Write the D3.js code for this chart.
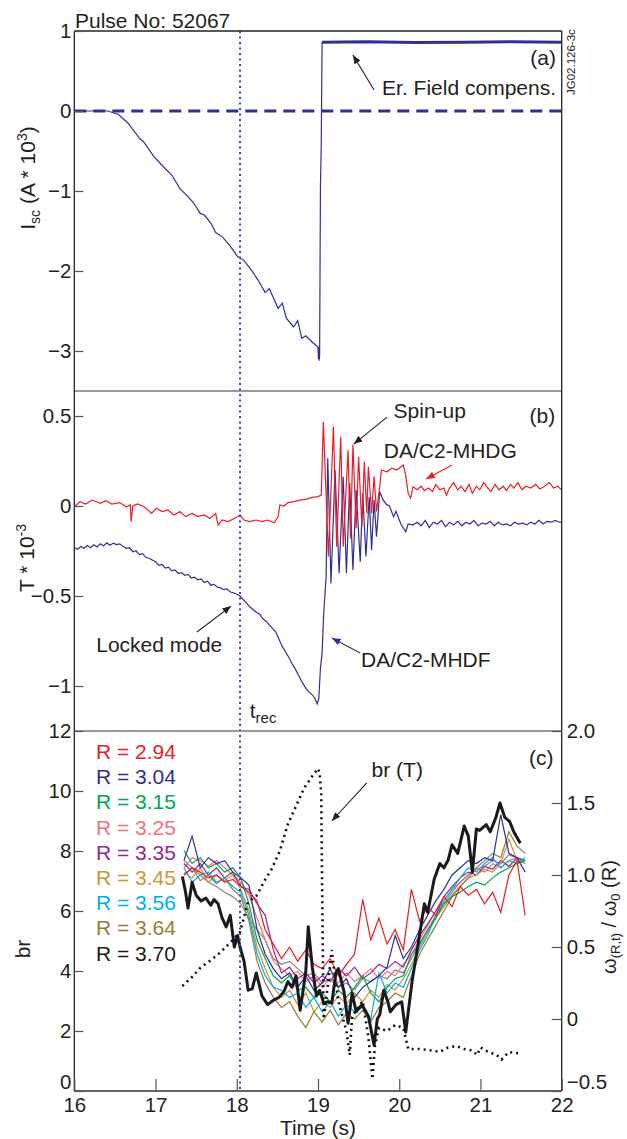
<!DOCTYPE html>
<html><head><meta charset="utf-8">
<script src="https://cdn.jsdelivr.net/npm/d3@7"></script>
<style>
body{margin:0;background:#fff}
svg{display:block}
text{font-family:"Liberation Sans",Arial,Helvetica,sans-serif}
</style>
</head><body><svg id="c" width="627" height="1139"></svg>
<script>
// ---------------- DATA ----------------
const timeTicks = [16,17,18,19,20,21,22];
const aTicks = [1,0,-1,-2,-3];
const bTicks = [0.5,0,-0.5,-1];
const cLeftTicks = [0,2,4,6,8,10,12];
const cRightTicks = [-0.5,0,0.5,1,1.5,2];
const tRec = 18.04;

// Panel (a): Isc (A*10^3)
const iscT = [16.0,16.41,16.54,16.66,16.81,16.85,16.98,17.10,17.20,17.30,17.40,17.47,17.55,17.60,17.68,17.74,17.82,17.92,18.01,18.09,18.18,18.26,18.35,18.40,18.51,18.56,18.61,18.70,18.75,18.80,18.85,18.93,19.00,19.005,19.01,19.015,19.02,19.03,19.04,19.05];
const iscV = [0,0,-0.04,-0.15,-0.35,-0.38,-0.57,-0.70,-0.80,-0.97,-1.07,-1.15,-1.28,-1.30,-1.40,-1.52,-1.57,-1.69,-1.82,-1.87,-1.99,-2.11,-2.27,-2.22,-2.47,-2.40,-2.59,-2.70,-2.62,-2.84,-2.81,-2.89,-2.95,-3.10,-2.95,-3.12,-3.05,-0.95,-0.40,0.86];
const compT = [19.05,19.6,20.2,20.8,21.4,22.0];
const compV = [0.86,0.865,0.855,0.86,0.865,0.86];
const zeroRef = [0,0];

// Panel (b): DA/C2-MHDG (red)
const mhdgT = [16.01,16.07,16.14,16.22,16.32,16.39,16.46,16.56,16.64,16.69,16.70,16.72,16.78,16.86,16.95,17.01,17.08,17.15,17.23,17.30,17.37,17.45,17.52,17.60,17.67,17.74,17.77,17.82,17.89,17.97,18.04,18.09,18.16,18.24,18.31,18.38,18.46,18.51,18.53,18.58,18.63,18.70,18.78,18.85,18.93,19.00,19.04,
 19.066,19.128,19.19,19.23,19.28,19.31,19.37,19.40,19.43,19.47,19.50,19.54,19.57,19.60,19.62,19.66,19.69,19.72,19.76,19.78,19.85,19.91,19.97,20.05,20.08,20.11,20.14,20.17,
 20.22,20.27,20.31,20.36,20.41,20.45,20.50,20.55,20.58,20.62,20.67,20.72,20.76,20.81,20.86,20.90,20.95,20.99,21.04,21.09,21.13,21.18,21.23,21.28,21.32,21.37,21.41,21.46,21.51,21.56,21.62,21.68,21.73,21.79,21.85,21.90,21.95,22.0];
const mhdgV = [0.0,0.024,0.011,0.033,0.015,0.030,0.011,0.019,-0.004,0.006,-0.087,0,0.011,-0.004,-0.041,-0.013,-0.031,-0.022,-0.05,-0.031,-0.059,-0.041,-0.059,-0.05,-0.069,-0.041,-0.106,-0.078,-0.087,-0.069,-0.05,-0.078,-0.087,-0.078,-0.087,-0.078,-0.093,-0.059,0.006,0.0,0.019,0.024,0.033,0.037,0.048,0.052,0.061,
 0.468,-0.28,0.44,-0.226,0.385,-0.226,0.31,-0.18,0.34,-0.124,0.274,-0.115,0.246,-0.04,0.218,-0.04,0.163,-0.03,0.107,0.2,0.19,0.21,0.2,0.228,0.17,0.07,0.043,0.107,
 0.09,0.11,0.085,0.10,0.08,0.12,0.09,0.10,0.06,0.10,0.13,0.09,0.11,0.08,0.12,0.07,0.11,0.09,0.13,0.10,0.08,0.12,0.09,0.11,0.085,0.12,0.10,0.13,0.09,0.11,0.10,0.12,0.095,0.11,0.13,0.10,0.11,0.09];

// Panel (b): DA/C2-MHDF (blue)
const mhdfT = [16.00,16.04,16.08,16.12,16.16,16.20,16.24,16.28,16.32,16.36,16.40,16.44,16.48,16.52,16.56,16.60,16.64,16.68,16.72,16.76,16.80,16.84,16.88,16.92,16.96,17.00,17.04,17.08,17.12,17.16,17.20,17.24,17.28,17.32,17.36,17.40,17.44,17.48,17.52,17.56,17.60,17.64,17.68,17.72,17.76,17.80,17.84,17.88,17.92,17.96,18.00,18.04,18.08,18.12,18.16,18.20,18.24,18.28,18.32,18.36,18.40,18.44,18.48,18.52,18.56,18.60,18.64,18.68,18.72,18.76,18.80,18.84,18.88,18.92,18.96,18.99,19.01,19.03,19.05,19.07,19.10,
 19.12,19.16,19.21,19.26,19.31,19.35,19.39,19.43,19.47,19.52,19.55,19.59,19.63,19.66,19.69,19.72,19.76,19.80,19.84,19.88,19.93,19.96,20.02,20.08,20.11,20.17,
 20.22,20.27,20.32,20.37,20.42,20.47,20.52,20.57,20.62,20.67,20.72,20.77,20.82,20.87,20.92,20.97,21.02,21.07,21.12,21.17,21.22,21.27,21.32,21.37,21.42,21.47,21.52,21.57,21.62,21.67,21.72,21.77,21.82,21.87,21.92,21.97,22.0];
const mhdfV = [-0.23,-0.24,-0.225,-0.235,-0.22,-0.232,-0.215,-0.228,-0.21,-0.222,-0.205,-0.218,-0.206,-0.214,-0.21,-0.225,-0.235,-0.232,-0.255,-0.248,-0.27,-0.265,-0.285,-0.29,-0.30,-0.31,-0.33,-0.325,-0.345,-0.34,-0.36,-0.355,-0.375,-0.37,-0.385,-0.38,-0.40,-0.395,-0.41,-0.405,-0.425,-0.418,-0.44,-0.435,-0.45,-0.455,-0.465,-0.46,-0.478,-0.482,-0.49,-0.50,-0.52,-0.54,-0.56,-0.575,-0.59,-0.60,-0.625,-0.64,-0.66,-0.68,-0.70,-0.74,-0.78,-0.81,-0.84,-0.875,-0.905,-0.94,-0.975,-1.005,-1.03,-1.045,-1.065,-1.10,-1.07,-0.90,-0.82,-0.60,-0.39,
 0.265,-0.43,0.20,-0.374,0.163,-0.374,0.126,-0.356,0.089,-0.31,0.07,-0.28,0.05,-0.245,0.033,-0.17,0.08,0.035,0.01,0.0,-0.06,-0.03,-0.10,-0.143,-0.10,-0.106,
 -0.09,-0.11,-0.08,-0.12,-0.09,-0.10,-0.08,-0.115,-0.09,-0.105,-0.085,-0.11,-0.09,-0.10,-0.08,-0.11,-0.095,-0.10,-0.085,-0.11,-0.09,-0.105,-0.10,-0.11,-0.09,-0.10,-0.095,-0.105,-0.09,-0.10,-0.08,-0.10,-0.085,-0.09,-0.08,-0.09,-0.09];

// Panel (c): omega(R,t)/omega0(R) per radius (right axis)
const radT = [17.35,17.45,17.55,17.65,17.75,17.85,17.95,18.05,18.15,18.25,18.35,18.45,18.55,18.65,18.75,18.85,18.95,19.05,19.15,19.25,19.35,19.45,19.55,19.65,19.75,19.85,19.95,20.05,20.15,20.25,20.35,20.45,20.55,20.65,20.75,20.85,20.95,21.05,21.15,21.25,21.35,21.45,21.55];
const r294 = [1.00,1.05,1.02,0.98,1.00,0.95,0.97,0.92,0.88,0.82,0.62,0.52,0.42,0.50,0.40,0.48,0.38,0.35,0.42,0.30,0.38,0.45,0.83,0.55,0.70,0.52,0.62,0.48,0.90,0.68,0.78,0.72,0.85,0.78,0.92,0.86,0.90,0.80,0.88,0.74,1.00,1.10,0.72];
const r304 = [1.10,1.27,1.05,1.12,1.08,1.10,1.02,0.98,0.93,0.62,0.45,0.35,0.28,0.32,0.22,0.30,0.20,0.25,0.35,0.22,0.28,0.15,0.22,0.26,0.30,0.36,0.58,0.42,0.50,0.62,0.72,0.82,0.90,1.00,1.05,1.10,1.08,1.12,1.10,1.42,1.15,1.12,1.02];
const r315 = [1.17,1.08,1.12,1.05,1.08,1.02,1.05,0.98,0.80,0.55,0.42,0.30,0.25,0.30,0.20,0.22,0.15,0.18,0.12,0.20,0.15,0.22,0.30,0.18,0.12,0.22,0.28,0.30,0.45,0.52,0.62,0.70,0.80,0.85,0.88,0.92,0.95,0.93,0.98,1.02,1.05,1.08,1.10];
const r325 = [1.05,1.12,1.10,1.06,1.10,1.05,1.00,0.95,0.86,0.70,0.55,0.40,0.35,0.30,0.33,0.26,0.30,0.22,0.28,0.25,0.32,0.26,0.30,0.35,0.28,0.33,0.30,0.38,0.45,0.55,0.65,0.75,0.82,0.90,0.95,1.00,1.05,1.02,1.08,1.05,1.10,1.12,1.08];
const r335 = [1.08,1.02,1.08,1.00,1.05,0.98,1.02,0.92,0.90,0.80,0.72,0.48,0.32,0.36,0.28,0.32,0.25,0.30,0.26,0.35,0.30,0.36,0.28,0.32,0.38,0.35,0.40,0.36,0.48,0.58,0.66,0.75,0.85,0.92,0.98,1.02,1.00,1.06,1.04,1.10,1.06,1.12,1.10];
const r345 = [1.02,0.98,1.05,0.95,1.00,0.96,1.00,0.90,0.75,0.50,0.35,0.22,0.15,0.20,0.10,0.18,0.05,0.12,0.08,0.16,0.10,0.18,0.12,0.20,0.15,0.24,0.20,0.28,0.38,0.50,0.60,0.70,0.78,0.86,0.92,0.98,1.00,1.04,1.02,1.08,1.25,1.10,1.08];
const r356 = [1.05,0.95,1.00,1.02,0.95,0.98,0.92,0.88,0.72,0.45,0.30,0.22,0.20,0.15,0.18,0.08,0.15,0.05,0.12,0.02,0.10,0.05,0.08,0.00,0.32,0.18,0.25,0.22,0.35,0.48,0.58,0.72,0.82,0.90,0.98,1.05,1.02,1.08,1.12,1.05,1.10,1.08,1.12];
const r364 = [1.00,1.05,0.96,1.00,0.94,0.98,0.90,0.85,0.68,0.40,0.25,0.15,0.08,0.12,0.02,-0.06,0.05,-0.02,0.06,-0.04,0.04,0.00,0.06,-0.02,0.08,0.12,0.18,0.15,0.30,0.45,0.55,0.65,0.75,0.85,0.92,0.98,1.05,1.10,1.15,1.12,1.30,1.20,1.15];
const rGrey = [1.10,1.05,1.00,0.95,0.92,0.88,0.85,0.80,0.70,0.62,0.55,0.42,0.38,0.40,0.35,0.30,0.32,0.25,0.28,0.22,0.25,0.20,0.28,0.26,0.30,0.28,0.34,0.32,0.42,0.52,0.62,0.72,0.80,0.88,0.95,1.00,1.04,1.06,1.10,1.08,1.14,1.12,1.10];
const r370T = [17.33,17.37,17.40,17.45,17.50,17.56,17.62,17.68,17.72,17.77,17.82,17.87,17.92,17.97,18.01,18.04,18.09,18.14,18.19,18.24,18.31,18.38,18.45,18.52,18.58,18.63,18.68,18.73,18.78,18.85,18.88,18.93,18.98,19.02,19.07,19.12,19.17,19.22,19.25,19.32,19.37,19.42,19.47,19.54,19.58,19.62,19.69,19.73,19.76,19.81,19.86,19.89,19.96,20.03,20.08,20.16,20.23,20.31,20.35,20.43,20.50,20.55,20.60,20.65,20.72,20.80,20.85,20.90,20.95,20.99,21.07,21.12,21.19,21.24,21.30,21.36,21.41,21.49];
const r370 = [0.99,0.88,0.77,0.95,0.86,0.82,0.84,0.79,0.83,0.80,0.70,0.64,0.72,0.50,0.58,0.50,0.40,0.20,0.21,0.32,0.16,0.10,0.13,0.15,0.19,0.26,0.22,0.30,0.06,0.33,0.64,0.36,0.16,0.20,0.11,0.12,0.11,0.32,0.35,0.19,-0.03,0.18,0.05,0.10,0.06,0.02,-0.18,0.00,0.03,0.20,0.12,0.05,0.10,0.12,-0.09,0.27,0.51,0.80,0.74,0.97,1.08,1.05,1.10,1.21,1.15,1.34,1.27,1.02,1.32,1.31,1.35,1.30,1.40,1.50,1.40,1.37,1.30,1.22];

// Panel (c): br (T) dotted (left axis)
const brT = [17.33,17.45,17.55,17.65,17.79,17.94,18.04,18.14,18.24,18.34,18.43,18.53,18.63,18.73,18.83,18.93,19.00,19.02,19.04,19.05,19.06,19.07,19.12,19.17,19.20,19.25,19.30,19.35,19.39,19.42,19.50,19.55,19.62,19.67,19.70,19.75,19.85,19.95,20.05,20.11,20.25,20.40,20.50,20.60,20.70,20.80,20.90,20.96,21.00,21.10,21.20,21.26,21.35,21.49];
const brV = [3.5,3.8,4.1,4.3,4.6,5.0,5.3,6.3,6.5,7.0,7.4,8.0,8.9,9.5,10.1,10.5,10.75,10.6,9.9,7.0,4.5,2.4,3.5,4.7,4.0,3.0,2.5,2.0,1.2,2.5,2.8,3.0,1.8,0.4,1.5,2.1,2.0,2.2,2.1,1.4,1.4,1.35,1.3,1.45,1.5,1.4,1.35,1.2,1.45,1.3,1.2,1.05,1.3,1.25];

const legendNames = ["R = 2.94","R = 3.04","R = 3.15","R = 3.25","R = 3.35","R = 3.45","R = 3.56","R = 3.64","R = 3.70"];
const legendColors = ["#ed1c24","#2e3192","#00a651","#f36f7f","#92278f","#c9963c","#00aeef","#9a7b36","#1a1a1a"];

// ---------------- CHART ----------------
const svg = d3.select("#c");
const INK = "#231f20";
const L = 74.3, R = 561.7;
const x = d3.scaleLinear([16,22],[L,R]);
const ya = d3.scaleLinear([-3.5,1],[391,31]);
const yb = d3.scaleLinear([-1.25,0.6389],[731,391]);
const ycL = d3.scaleLinear([0,12],[1091,731]);
const ycR = d3.scaleLinear([-0.5,2],[1091,731]);
const BLUE = "#2e3192", RED = "#ed1c24";
const zip = (t,v) => t.map((d,i)=>[d,v[i]]);
const lineOf = ys => d3.line().x(d=>x(d[0])).y(d=>ys(d[1]));

const defs = svg.append("defs");
[["A",31,391],["B",391,731],["C",731,1091]].forEach(([id,t,b])=>{
  defs.append("clipPath").attr("id","clip"+id).append("rect").attr("x",L).attr("y",t).attr("width",R-L).attr("height",b-t);
});
[["k",INK],["r",RED],["b",BLUE]].forEach(([id,c])=>{
  defs.append("marker").attr("id","ah"+id).attr("viewBox","0 0 10 8").attr("refX",10).attr("refY",4)
    .attr("markerWidth",9).attr("markerHeight",7).attr("markerUnits","userSpaceOnUse").attr("orient","auto")
    .append("path").attr("d","M0,0L10,4L0,8Z").attr("fill",c);
});

// ---- Panel (a)
const gA = svg.append("g").attr("clip-path","url(#clipA)");
gA.append("path").attr("d", lineOf(ya)([[16,zeroRef[0]],[22,zeroRef[1]]]))
  .attr("fill","none").attr("stroke",BLUE).attr("stroke-width",3).attr("stroke-dasharray","12,7");
gA.append("path").attr("d", lineOf(ya)(zip(iscT,iscV))).attr("fill","none").attr("stroke",BLUE).attr("stroke-width",1.2);
gA.append("path").attr("d", lineOf(ya)(zip(compT,compV))).attr("fill","none").attr("stroke",BLUE).attr("stroke-width",3);

// ---- Panel (b)
const gB = svg.append("g").attr("clip-path","url(#clipB)");
gB.append("path").attr("d", lineOf(yb)(zip(mhdfT,mhdfV))).attr("fill","none").attr("stroke",BLUE).attr("stroke-width",1.2);
gB.append("path").attr("d", lineOf(yb)(zip(mhdgT,mhdgV))).attr("fill","none").attr("stroke",RED).attr("stroke-width",1.2);

// ---- Panel (c)
const gC = svg.append("g").attr("clip-path","url(#clipC)");
const series = [
  [rGrey,"#8c8282"],[r325,legendColors[3]],[r335,legendColors[4]],[r345,legendColors[5]],[r364,legendColors[7]],
  [r356,legendColors[6]],[r315,legendColors[2]],[r304,legendColors[1]],[r294,legendColors[0]]
];
series.forEach(([v,c])=>{
  gC.append("path").attr("d", lineOf(ycR)(zip(radT,v))).attr("fill","none").attr("stroke",c).attr("stroke-width",1.2);
});
gC.append("path").attr("d", lineOf(ycR)(zip(r370T,r370))).attr("fill","none").attr("stroke",legendColors[8]).attr("stroke-width",3).attr("stroke-linejoin","round");
gC.append("path").attr("d", lineOf(ycL)(zip(brT,brV))).attr("fill","none").attr("stroke","#111").attr("stroke-width",2.6).attr("stroke-dasharray","2,4");

// t_rec vertical dotted line
svg.append("line").attr("x1",x(tRec)).attr("x2",x(tRec)).attr("y1",31).attr("y2",1091)
  .attr("stroke","#3a42b8").attr("stroke-width",2).attr("stroke-dasharray","2,3.5");

// ---- Frame
svg.append("line").attr("x1",L).attr("x2",R).attr("y1",391).attr("y2",391).attr("stroke","#7a7a7a").attr("stroke-width",1.5);
svg.append("line").attr("x1",L).attr("x2",R).attr("y1",731).attr("y2",731).attr("stroke","#7a7a7a").attr("stroke-width",1.5);
svg.append("line").attr("x1",L).attr("x2",R).attr("y1",31).attr("y2",31).attr("stroke","#222").attr("stroke-width",1.3);
svg.append("line").attr("x1",L).attr("x2",R).attr("y1",1091).attr("y2",1091).attr("stroke","#333").attr("stroke-width",1.6);
svg.append("line").attr("x1",L).attr("x2",L).attr("y1",31).attr("y2",1091).attr("stroke","#222").attr("stroke-width",1.3);
svg.append("line").attr("x1",R).attr("x2",R).attr("y1",31).attr("y2",1091).attr("stroke","#222").attr("stroke-width",1.3);

// ---- Axes
const minus = s => s.replace("-", "\u2212");
function styleAxis(g){
  g.select(".domain").remove();
  g.selectAll(".tick line").attr("stroke","#555").attr("stroke-width",1.2);
  g.selectAll(".tick text").attr("font-size",20.5).style("fill",INK)
    .attr("font-family",'"Liberation Sans",Arial,Helvetica,sans-serif');
}
svg.append("g").attr("transform",`translate(${L},0)`)
  .call(d3.axisLeft(ya).tickValues(aTicks).tickSize(-9).tickPadding(3).tickFormat(d=>minus(String(d))))
  .call(styleAxis);
svg.append("g").attr("transform",`translate(${L},0)`)
  .call(d3.axisLeft(yb).tickValues(bTicks).tickSize(-9).tickPadding(3).tickFormat(d=>minus(String(d))))
  .call(styleAxis);
svg.append("g").attr("transform",`translate(${L},0)`)
  .call(d3.axisLeft(ycL).tickValues(cLeftTicks).tickSize(-9).tickPadding(3).tickFormat(d3.format("d")))
  .call(styleAxis)
  .selectAll(".tick text").attr("dy", d=> d===0 ? "-0.12em" : "0.32em");
svg.append("g").attr("transform",`translate(${R},0)`)
  .call(d3.axisRight(ycR).tickValues(cRightTicks).tickSize(-10).tickPadding(5).tickFormat(d=> d===0 ? "0" : d3.format(".1f")(d)))
  .call(styleAxis)
  .selectAll(".tick text").attr("dy", d=> d===-0.5 ? "-0.12em" : "0.32em");
svg.append("g").attr("transform","translate(0,1091)")
  .call(d3.axisBottom(x).tickValues(timeTicks).tickSize(-12).tickPadding(6).tickFormat(d3.format("d")))
  .call(styleAxis);

// ---- Axis titles
const T = (x0,y0,rot) => svg.append("text").attr("transform",`translate(${x0},${y0})${rot?" rotate(-90)":""}`).attr("font-size",21).style("fill",INK);
let t;
t = T(35,178,true).attr("text-anchor","middle");
t.append("tspan").text("I");
t.append("tspan").attr("font-size",14).attr("dy",5).text("sc");
t.append("tspan").attr("dy",-5).text(" (A * 10");
t.append("tspan").attr("font-size",14).attr("dy",-8).text("3");
t.append("tspan").attr("dy",8).text(")");

t = T(34,558,true).attr("text-anchor","middle");
t.append("tspan").text("T * 10");
t.append("tspan").attr("font-size",14).attr("dy",-8).text("-3");

T(30,949,true).attr("text-anchor","middle").text("br");

t = T(616,917,true).attr("text-anchor","middle").attr("font-size",20);
t.append("tspan").text("\u03c9");
t.append("tspan").attr("font-size",13).attr("dy",4).text("(R,t)");
t.append("tspan").attr("dy",-4).text(" / \u03c9");
t.append("tspan").attr("font-size",13).attr("dy",4).text("0");
t.append("tspan").attr("dy",-4).text(" (R)");

T(318,1135,false).attr("text-anchor","middle").text("Time (s)");
T(75,28,false).text("Pulse No: 52067");
svg.append("text").attr("transform","translate(575,95) rotate(-90)").attr("font-size",11.5).style("fill",INK).text("JG02.126-3c");

// ---- Annotations (in data coordinates)
const ann = (ys, tt, v, txt, anchor) =>
  svg.append("text").attr("x",x(tt)).attr("y",ys(v)).attr("font-size",21).attr("text-anchor",anchor||"start").style("fill",INK).text(txt);
const arrow = (ys, t1,v1,t2,v2, col, mk) =>
  svg.append("line").attr("x1",x(t1)).attr("y1",ys(v1)).attr("x2",x(t2)).attr("y2",ys(v2))
    .attr("stroke",col).attr("stroke-width",1.1).attr("marker-end",`url(#ah${mk})`);

ann(ya,21.93,0.575,"(a)","end");
ann(ya,21.93,0.2,"Er. Field compens.","end");
arrow(ya,19.69,0.2625,19.43,0.70,INK,"k");

ann(yb,21.92,0.461,"(b)","end");
ann(yb,19.93,0.489,"Spin-up");
arrow(yb,19.85,0.494,19.44,0.344,INK,"k");
ann(yb,19.81,0.267,"DA/C2-MHDG");
arrow(yb,20.65,0.228,20.33,0.15,RED,"r");
ann(yb,16.27,-0.811,"Locked mode");
arrow(yb,17.51,-0.70,17.93,-0.556,INK,"k");
ann(yb,19.53,-0.894,"DA/C2-MHDF");
arrow(yb,19.52,-0.817,19.17,-0.733,BLUE,"b");
t = svg.append("text").attr("x",x(18.16)).attr("y",yb(-1.178)).attr("font-size",21).style("fill",INK);
t.append("tspan").text("t");
t.append("tspan").attr("font-size",15).attr("dy",5).text("rec");

ann(ycL,21.90,10.87,"(c)","end");
ann(ycL,19.66,10.47,"br (T)");
arrow(ycL,19.60,10.27,19.17,9.0,INK,"k");

// Legend
legendNames.forEach((n,i)=>{
  svg.append("text").attr("x",96).attr("y",759+i*25.2).attr("font-size",21).style("fill",legendColors[i]).text(n);
});
</script></body></html>
